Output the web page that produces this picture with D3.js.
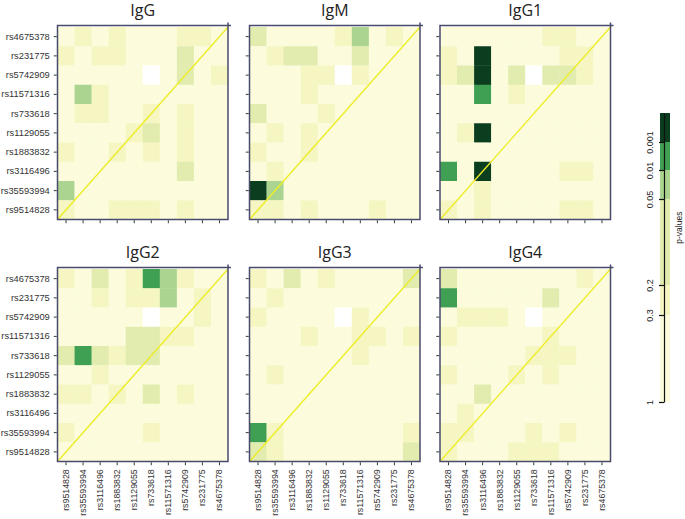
<!DOCTYPE html>
<html>
<head>
<meta charset="utf-8">
<script src="https://cdn.jsdelivr.net/npm/d3@7"></script>
<style>
  html, body { margin: 0; padding: 0; background: #ffffff; }
  svg { display: block; }
</style>
</head>
<body>
<svg id="chart" width="685" height="519"></svg>
<script>
// ---------- DATA ----------
const colSnps = ["rs9514828","rs35593994","rs3116496","rs1883832","rs1129055","rs733618","rs11571316","rs5742909","rs231775","rs4675378"];
const rowSnps = ["rs4675378","rs231775","rs5742909","rs11571316","rs733618","rs1129055","rs1883832","rs3116496","rs35593994","rs9514828"];
const panelNames = ["IgG","IgM","IgG1","IgG2","IgG3","IgG4"];

// p-values, rows top->bottom (rowSnps), columns left->right (colSnps); null = not available
const pIgG = [
  [0.5,0.25,0.5,0.25,0.5,0.5,0.5,0.25,0.25,0.5],
  [0.25,0.5,0.25,0.25,0.5,0.5,0.5,0.1,0.5,0.5],
  [0.5,0.5,0.5,0.5,0.5,null,0.5,0.1,0.5,0.25],
  [0.5,0.03,0.25,0.5,0.5,0.5,0.5,0.5,0.5,0.5],
  [0.5,0.25,0.25,0.5,0.5,0.25,0.5,0.25,0.5,0.5],
  [0.5,0.5,0.5,0.5,0.25,0.1,0.5,0.25,0.5,0.5],
  [0.25,0.5,0.5,0.25,0.5,0.25,0.5,0.25,0.5,0.5],
  [0.5,0.5,0.5,0.5,0.5,0.5,0.5,0.1,0.5,0.5],
  [0.03,0.5,0.5,0.5,0.5,0.5,0.5,0.5,0.5,0.5],
  [0.25,0.5,0.5,0.25,0.25,0.25,0.5,0.25,0.5,0.5]
];
const pIgM = [
  [0.1,0.5,0.5,0.5,0.5,0.25,0.03,0.5,0.25,0.5],
  [0.5,0.25,0.1,0.1,0.5,0.5,0.1,0.5,0.5,0.5],
  [0.5,0.5,0.5,0.25,0.25,null,0.25,0.5,0.5,0.5],
  [0.5,0.5,0.5,0.25,0.5,0.5,0.5,0.5,0.5,0.5],
  [0.1,0.5,0.5,0.5,0.25,0.5,0.5,0.5,0.5,0.5],
  [0.5,0.25,0.5,0.25,0.5,0.5,0.5,0.5,0.5,0.5],
  [0.25,0.5,0.5,0.25,0.5,0.5,0.5,0.5,0.5,0.5],
  [0.5,0.25,0.5,0.5,0.5,0.5,0.5,0.5,0.5,0.5],
  [0.0005,0.03,0.5,0.5,0.5,0.5,0.5,0.5,0.5,0.5],
  [0.25,0.25,0.5,0.25,0.5,0.5,0.5,0.25,0.5,0.5]
];
const pIgG1 = [
  [0.5,0.5,0.5,0.5,0.5,0.5,0.25,0.25,0.5,0.5],
  [0.25,0.5,0.0005,0.5,0.5,0.5,0.5,0.25,0.25,0.5],
  [0.25,0.1,0.0005,0.5,0.1,null,0.1,0.1,0.25,0.5],
  [0.5,0.5,0.005,0.5,0.25,0.5,0.5,0.5,0.5,0.5],
  [0.5,0.5,0.5,0.5,0.5,0.5,0.5,0.5,0.5,0.5],
  [0.5,0.25,0.0005,0.5,0.5,0.5,0.5,0.5,0.5,0.5],
  [0.5,0.5,0.5,0.5,0.5,0.5,0.5,0.5,0.5,0.5],
  [0.005,0.5,0.0005,0.5,0.5,0.5,0.5,0.25,0.25,0.5],
  [0.5,0.5,0.25,0.5,0.5,0.5,0.5,0.5,0.5,0.5],
  [0.25,0.5,0.25,0.5,0.5,0.5,0.5,0.25,0.25,0.5]
];
const pIgG2 = [
  [0.25,0.5,0.1,0.5,0.25,0.005,0.03,0.25,0.5,0.5],
  [0.5,0.5,0.25,0.5,0.25,0.25,0.03,0.5,0.25,0.5],
  [0.5,0.5,0.5,0.5,0.5,null,0.5,0.5,0.25,0.5],
  [0.5,0.5,0.5,0.5,0.1,0.1,0.25,0.25,0.5,0.5],
  [0.1,0.005,0.1,0.25,0.1,0.1,0.5,0.5,0.5,0.5],
  [0.5,0.5,0.25,0.5,0.5,0.5,0.5,0.5,0.5,0.5],
  [0.25,0.25,0.5,0.25,0.5,0.1,0.5,0.25,0.5,0.5],
  [0.5,0.5,0.5,0.5,0.5,0.5,0.5,0.5,0.5,0.5],
  [0.25,0.5,0.5,0.5,0.5,0.25,0.5,0.5,0.5,0.5],
  [0.5,0.5,0.5,0.5,0.5,0.5,0.5,0.5,0.5,0.5]
];
const pIgG3 = [
  [0.25,0.5,0.1,0.5,0.25,0.5,0.5,0.5,0.5,0.1],
  [0.5,0.25,0.5,0.5,0.5,0.5,0.5,0.5,0.5,0.5],
  [0.25,0.5,0.5,0.5,0.5,null,0.25,0.5,0.5,0.5],
  [0.5,0.5,0.5,0.25,0.5,0.5,0.25,0.25,0.5,0.25],
  [0.5,0.5,0.5,0.5,0.5,0.5,0.25,0.5,0.5,0.5],
  [0.5,0.25,0.5,0.5,0.5,0.5,0.5,0.5,0.5,0.5],
  [0.5,0.5,0.5,0.5,0.5,0.5,0.5,0.5,0.5,0.5],
  [0.5,0.5,0.5,0.5,0.5,0.5,0.5,0.5,0.5,0.5],
  [0.005,0.25,0.5,0.5,0.5,0.5,0.5,0.5,0.5,0.25],
  [0.1,0.25,0.5,0.5,0.5,0.5,0.5,0.5,0.5,0.1]
];
const pIgG4 = [
  [0.1,0.5,0.5,0.5,0.5,0.5,0.5,0.5,0.25,0.5],
  [0.005,0.5,0.5,0.5,0.5,0.5,0.1,0.5,0.5,0.5],
  [0.5,0.25,0.25,0.25,0.5,null,0.5,0.5,0.5,0.5],
  [0.25,0.5,0.5,0.5,0.5,0.5,0.25,0.5,0.5,0.5],
  [0.5,0.5,0.5,0.5,0.5,0.25,0.25,0.25,0.5,0.5],
  [0.25,0.5,0.5,0.5,0.25,0.5,0.25,0.5,0.5,0.5],
  [0.5,0.5,0.1,0.5,0.5,0.5,0.5,0.5,0.5,0.5],
  [0.5,0.25,0.5,0.5,0.5,0.5,0.5,0.5,0.5,0.5],
  [0.25,0.25,0.5,0.5,0.5,0.25,0.5,0.25,0.5,0.5],
  [0.25,0.5,0.5,0.5,0.25,0.25,0.25,0.5,0.5,0.5]
];
const panelData = [pIgG, pIgM, pIgG1, pIgG2, pIgG3, pIgG4];

// legend
const pBreaks = [0.001, 0.01, 0.05, 0.2, 0.3];
const pColors = ["#0b3d1f", "#3f9f52", "#aad48f", "#e2ecae", "#f5f6c2", "#fcfcdd"];
const legendTickValues = [1, 0.3, 0.2, 0.05, 0.01, 0.001];
const legendTickLabels = ["1", "0.3", "0.2", "0.05", "0.01", "0.001"];
const legendTitle = "p-values";

// ---------- DRAW ----------
const svg = d3.select("#chart");
const color = d3.scaleThreshold().domain(pBreaks).range(pColors);

const panelLefts = [57.5, 249.5, 440];
const panelW = 170.5;
const rowTops = [25.5, 267.5];
const panelH = 194;
const frameColor = "#4a4a6c";
const tickColor = "#2f3b3b";
const labelFont = "'Liberation Sans', Arial, sans-serif";

panelNames.forEach((name, k) => {
  const ci = k % 3, ri = Math.floor(k / 3);
  const left = panelLefts[ci], top = rowTops[ri];
  const gridTop = top + 1.5, bottom = top + panelH;
  const x = d3.scaleBand().domain(colSnps).range([left, left + panelW]);
  const y = d3.scaleBand().domain(rowSnps).range([gridTop, bottom]);
  const g = svg.append("g");

  const cells = [];
  panelData[k].forEach((row, r) => row.forEach((p, c) => cells.push({r: rowSnps[r], c: colSnps[c], p})));
  g.selectAll("rect.cell").data(cells).join("rect")
    .attr("class", "cell")
    .attr("x", d => x(d.c)).attr("y", d => y(d.r))
    .attr("width", x.bandwidth() + 0.3).attr("height", y.bandwidth() + 0.3)
    .attr("fill", d => d.p === null ? "#ffffff" : color(d.p));

  // diagonal
  g.append("line")
    .attr("x1", left).attr("y1", bottom)
    .attr("x2", left + panelW).attr("y2", gridTop)
    .attr("stroke", "#eded2a").attr("stroke-width", 1.4);

  // frame
  g.append("rect")
    .attr("x", left).attr("y", top).attr("width", panelW).attr("height", panelH)
    .attr("fill", "none").attr("stroke", frameColor).attr("stroke-width", 1.5);
  g.append("line").attr("x1", left + panelW).attr("x2", left + panelW)
    .attr("y1", top - 3).attr("y2", top).attr("stroke", frameColor).attr("stroke-width", 1.5);
  g.append("line").attr("x1", left + panelW).attr("x2", left + panelW + 3)
    .attr("y1", top).attr("y2", top).attr("stroke", frameColor).attr("stroke-width", 1.5);

  // axes
  const yAxis = d3.axisLeft(y).tickSize(3).tickSizeOuter(0).tickPadding(4);
  const ya = g.append("g").attr("transform", `translate(${left - 0.75},0)`).call(yAxis);
  ya.select(".domain").remove();
  ya.selectAll(".tick line").attr("stroke", tickColor);
  if (ci === 0) {
    ya.selectAll(".tick text").attr("font-family", labelFont).attr("font-size", 9.3).attr("fill", "#333");
  } else {
    ya.selectAll(".tick text").remove();
  }

  const xAxis = d3.axisBottom(x).tickSize(3).tickSizeOuter(0);
  const xa = g.append("g").attr("transform", `translate(0,${bottom + 0.75})`).call(xAxis);
  xa.select(".domain").remove();
  xa.selectAll(".tick line").attr("stroke", tickColor);
  if (ri === 1) {
    xa.selectAll(".tick text")
      .attr("font-family", labelFont).attr("font-size", 8.8).attr("fill", "#333")
      .attr("text-anchor", "end")
      .attr("transform", "rotate(-90)")
      .attr("x", -7).attr("y", 0).attr("dy", "0.33em");
  } else {
    xa.selectAll(".tick text").remove();
  }

  // title
  svg.append("text")
    .attr("x", left + panelW / 2).attr("y", top - 10)
    .attr("text-anchor", "middle")
    .attr("font-family", "'Open Sans', sans-serif").attr("font-size", 16)
    .attr("fill", "#222")
    .text(name);
});

// ---------- LEGEND ----------
const ly = d3.scaleLinear()
  .domain([1, 0.3, 0.2, 0.05, 0.01, 0.001, 0.0001])
  .range([402, 315, 285, 199, 170, 142, 113]);
const bandEdges = [0.0001].concat(pBreaks).concat([1]);
const bands = pColors.map((c, i) => ({lo: bandEdges[i], hi: bandEdges[i + 1], c}));
const lg = svg.append("g");
lg.selectAll("rect").data(bands).join("rect")
  .attr("x", 660).attr("width", 10)
  .attr("y", d => ly(d.lo)).attr("height", d => ly(d.hi) - ly(d.lo))
  .attr("fill", d => d.c);

const lAxis = d3.axisLeft(ly).tickValues(legendTickValues).tickSize(5).tickSizeOuter(0)
  .tickFormat((d, i) => legendTickLabels[i]);
const la = lg.append("g").attr("transform", "translate(664,0)").call(lAxis);
la.select(".domain").attr("stroke", "#111").attr("stroke-width", 1.2);
la.selectAll(".tick line").attr("stroke", "#111").attr("stroke-width", 1.2);
la.selectAll(".tick text")
  .attr("font-family", labelFont).attr("font-size", 9).attr("fill", "#222")
  .attr("text-anchor", "middle")
  .attr("transform", "rotate(-90)")
  .attr("x", 0).attr("y", -11).attr("dy", 0);

lg.append("text")
  .attr("transform", `translate(682,${ly(0.1)}) rotate(-90)`)
  .attr("text-anchor", "middle")
  .attr("font-family", labelFont).attr("font-size", 8.5).attr("fill", "#222")
  .text(legendTitle);
</script>
</body>
</html>
